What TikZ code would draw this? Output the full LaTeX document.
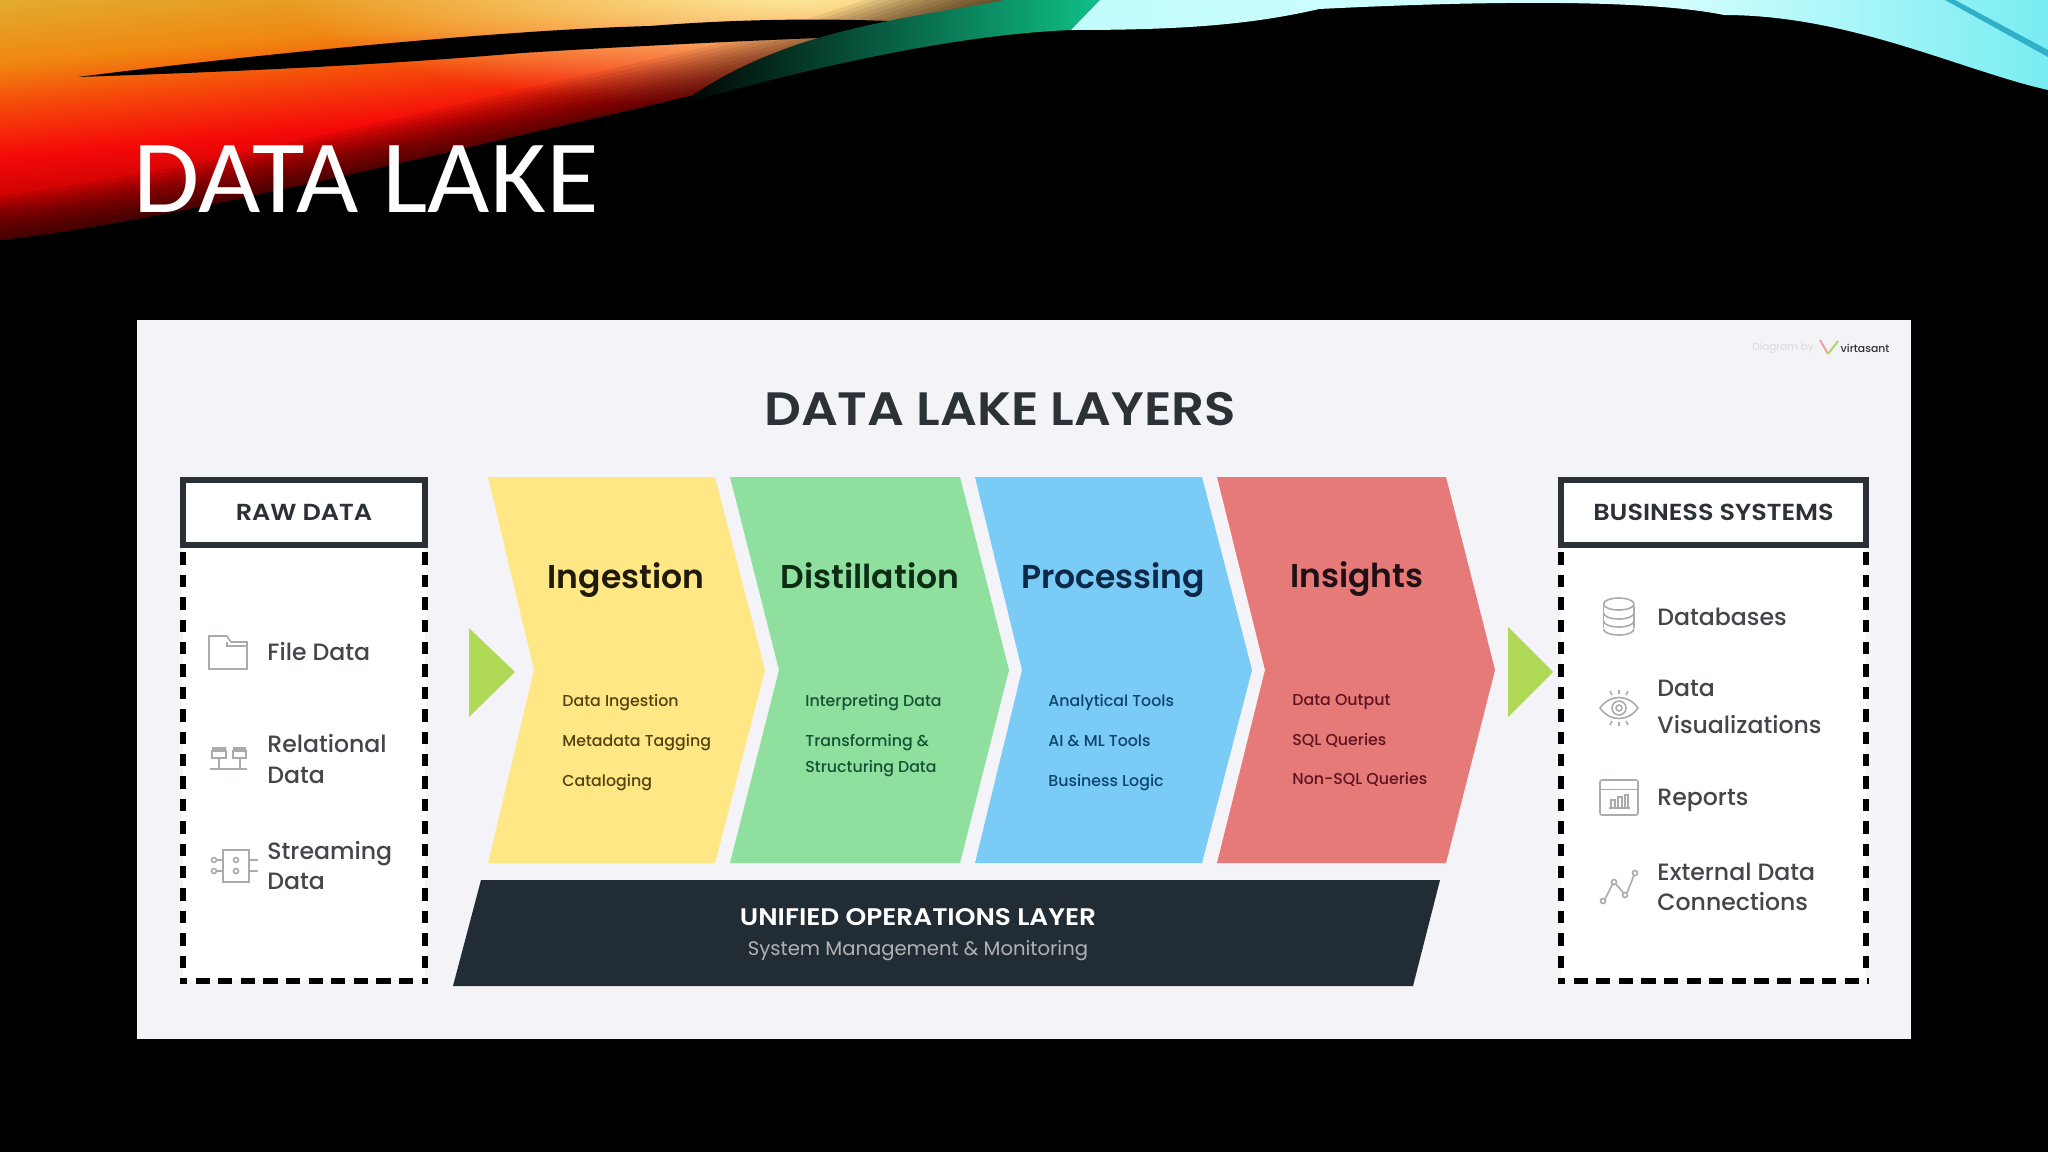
\documentclass[tikz,border=0pt]{standalone}
\usepackage{fontspec}
\usepackage{tikz}
\usetikzlibrary{fadings}
\setmainfont{Poppins}[BoldFont={Poppins SemiBold}]
\newfontfamily\titlefont{Carlito}[FakeStretch=1.035]
\newfontfamily\widefont{Poppins SemiBold}[FakeStretch=1.1]
\newfontfamily\medfont{Poppins Medium}
\newcommand{\fs}[1]{\fontsize{#1}{#1}\selectfont}

\definecolor{inkdark}{HTML}{2C3138}
\definecolor{itemink}{HTML}{43464B}
\definecolor{icongrey}{HTML}{A9ACAD}
\definecolor{panelgrey}{HTML}{F4F4F8}
\definecolor{arrowgreen}{HTML}{B0D957}
\definecolor{layerdark}{HTML}{212C35}
\definecolor{ingyellow}{HTML}{FEE784}
\definecolor{distgreen}{HTML}{8FE09F}
\definecolor{procblue}{HTML}{7ACBF5}
\definecolor{insred}{HTML}{E57A78}
\definecolor{inghead}{HTML}{1F1A0A}
\definecolor{disthead}{HTML}{0E2C14}
\definecolor{prochead}{HTML}{0C2A48}
\definecolor{inshead}{HTML}{1E1015}
\definecolor{ingsub}{HTML}{52430F}
\definecolor{distsub}{HTML}{145233}
\definecolor{procsub}{HTML}{0F4470}
\definecolor{inssub}{HTML}{5E1320}
\definecolor{warma}{HTML}{3C0000}
\definecolor{warmb}{HTML}{B00000}
\definecolor{warmc}{HTML}{F50808}
\definecolor{warmd}{HTML}{F54B0A}
\definecolor{warme}{HTML}{F08710}
\definecolor{warmf}{HTML}{E2AC30}
\definecolor{warmg}{HTML}{E8DE6E}
\definecolor{coola}{HTML}{10B890}
\definecolor{coolb}{HTML}{50E8D0}
\definecolor{coolc}{HTML}{C0FCFC}
\definecolor{coold}{HTML}{D8FFFF}
\definecolor{coole}{HTML}{60E8EE}
\definecolor{coolf}{HTML}{20C8E0}
\definecolor{ribbonmid}{HTML}{006838}
\definecolor{ribbonend}{HTML}{10C088}
\definecolor{stripeteal}{HTML}{30B0C8}
\pagecolor{black}

\pgfdeclareverticalshading{warmfade}{800pt}{
  color(0pt)=(warma); color(110pt)=(warmb); color(143pt)=(warmc); color(170pt)=(warmd);
  color(190pt)=(warme); color(222pt)=(warmf); color(300pt)=(warmg)}
\pgfdeclarehorizontalshading{coolfade}{100bp}{
  color(0bp)=(coola); color(9bp)=(coolb); color(24bp)=(coolc); color(55bp)=(coold);
  color(80bp)=(coole); color(100bp)=(coolf)}
\tikzfading[name=softspot, inner color=transparent!10, outer color=transparent!100]

\tikzset{
  headbox/.style={draw=inkdark, line width=3pt, outer sep=0pt, fill=white, inner sep=0pt, font=\widefont\fs{11.6}, text=inkdark},
  framedash/.style={line width=3pt, black, dash pattern=on 6.2pt off 5pt, dash phase=7.5pt},
  framebase/.style={line width=3pt, black, dash pattern=on 7.1pt off 4.2pt, dash phase=3.5pt},
  iconline/.style={draw=icongrey, line width=0.8pt},
  itemtext/.style={anchor=base west, inner sep=0pt, text=itemink, font=\medfont\fs{11.8}},
  stagehead/.style={anchor=base, inner sep=0pt, font=\bfseries\fs{16.5}},
  stageitem/.style={anchor=base west, inner sep=0pt, font=\medfont\fs{7.9}}
}

\begin{document}
\begin{tikzpicture}[x=0.5pt,y=-0.5pt]
    \useasboundingbox (0,0) rectangle (2048,1152);
    \fill [black] (0,0) rectangle (2048,1152);

    % swoosh at the top
    \begin{scope}
        \clip (0,240) .. controls (130,225) and (280,190) .. (457,150) .. controls (560,125) and (680,100) .. (784,72) .. controls (860,50) and (950,15) .. (1010,0) -- (0,0) -- cycle;
        \node [rotate=5,inner sep=0pt] (warmband) at (500,100) {\pgfuseshading{warmfade}};
        \fill [yellow!30!white, path fading=softspot] (800,-10) ellipse [x radius=520, y radius=120];
        \foreach \wd in {4,8,...,44}
            \draw [black, opacity=0.07, line width=\wd pt] (0,240) .. controls (130,225) and (280,190) .. (457,150) .. controls (560,125) and (680,100) .. (784,72) .. controls (860,50) and (950,15) .. (1010,0);
    \end{scope}
    \fill [black] (78,77) .. controls (250,55) and (500,30) .. (650,26) .. controls (750,18) and (850,18) .. (927,23) -- (900,35) .. controls (750,40) and (600,48) .. (522,53) .. controls (380,65) and (250,71) .. (78,77) -- cycle;
    \shade [left color=black, middle color=ribbonmid, right color=ribbonend] (679,105) .. controls (780,30) and (900,20) .. (1005,0) -- (1100,0) -- (1071,30) .. controls (950,35) and (800,70) .. (679,105) -- cycle;
    \shade [shading=coolfade] (1071,30) -- (1100,0) -- (2048,0) -- (2048,90) .. controls (1960,70) and (1850,15) .. (1724,15) .. controls (1650,0) and (1500,0) .. (1319,9) .. controls (1250,25) and (1180,30) .. (1071,30) -- cycle;
    \fill [stripeteal] (1945,0) -- (1955,0) -- (2048,50) -- (2048,57) -- cycle;

    \node [anchor=base west,inner sep=0pt,white,font=\titlefont\fs{52}] (slidetitle) at (133,212) {DATA LAKE};

    % white panel with the diagram
    \fill [panelgrey] (137,320) rectangle (1911,1039);
    \node [anchor=base,inner sep=0pt,inkdark,font=\widefont\fs{23.4}] (paneltitle) at (1000,425) {DATA LAKE LAYERS};

    \node [inner sep=0pt,black!15,font=\fs{5.2}] (credit) at (1783,348) {Diagram by};
    \node [inner sep=0pt,inkdark,font=\medfont\fs{5.4}] (creditname) at (1865,348) {virtasant};
    \draw [line width=1pt,insred!70!white] (1820,340) -- (1828,354);
    \draw [line width=1pt,arrowgreen] (1828,354) -- (1838,341);

    % raw data box
    \fill [white] (183,544) rectangle (425,980);
    \node [headbox,minimum width=121pt,minimum height=32.5pt] (rawhead) at (304,512.5) {RAW DATA};
    \draw [framedash] (rawhead.south west) -- (183,972);
    \draw [framedash] (rawhead.south east) -- (425,972);
    \draw [framebase] (180,981) -- (428,981);
    \node [itemtext] (filedata) at (267,660) {File Data};
    \node [itemtext] (rellabel) at (267,752) {Relational};
    \node [itemtext] (reldata) at (267,783) {Data};
    \node [itemtext] (streamlabel) at (267,859) {Streaming};
    \node [itemtext] (streamdata) at (267,889) {Data};

    % raw data icons
    \draw [iconline] (209,669) -- (209,636) -- (227,636) -- (231,642) -- (247,642) -- (247,669) -- cycle;
    \draw [iconline] (227,642) -- (227,646) -- (247,646);
    \fill [icongrey] (212,747) rectangle (226,751) (233,747) rectangle (246,751);
    \draw [iconline] (212,751) rectangle (226,758) (233,751) rectangle (246,758);
    \draw [iconline] (219,758) -- (219,769) (240,758) -- (240,769) (210,769) -- (247,769);
    \draw [iconline] (223,850) rectangle (249,882);
    \draw [iconline] (236,860) circle (2.5) (236,871) circle (2.5) (214,860) circle (2.5) (214,871) circle (2.5);
    \draw [iconline] (217,860) -- (223,860) (217,871) -- (223,871) (249,860) -- (258,860) (249,871) -- (258,871);

    % green arrows
    \fill [arrowgreen] (469,628) -- (515,672) -- (469,717) -- cycle;
    \fill [arrowgreen] (1508,627) -- (1553,672) -- (1508,717) -- cycle;

    % stages
    \foreach \lx/\rx/\nx/\tx/\col in {488/715/534/765/ingyellow, 730/960/779/1009/distgreen, 975/1202/1022/1252/procblue, 1217/1446/1265/1495/insred}
        \fill [\col] (\lx,477) -- (\rx,477) -- (\tx,670) -- (\rx,863) -- (\lx,863) -- (\nx,670) -- cycle;

    \node [stagehead,text=inghead] (ingtitle) at (626,588) {Ingestion};
    \node [stagehead,text=disthead] (disttitle) at (870,588) {Distillation};
    \node [stagehead,text=prochead] (proctitle) at (1113,588) {Processing};
    \node [stagehead,text=inshead] (institle) at (1357,587) {Insights};

    \node [stageitem,text=ingsub] (ing1) at (562,706.5) {Data Ingestion};
    \node [stageitem,text=ingsub] (ing2) at (562,746) {Metadata Tagging};
    \node [stageitem,text=ingsub] (ing3) at (562,786) {Cataloging};
    \node [stageitem,text=distsub] (dist1) at (805,706.5) {Interpreting Data};
    \node [stageitem,text=distsub] (dist2) at (805,746) {Transforming \&};
    \node [stageitem,text=distsub] (dist3) at (805,772) {Structuring Data};
    \node [stageitem,text=procsub] (proc1) at (1048,706.5) {Analytical Tools};
    \node [stageitem,text=procsub] (proc2) at (1048,746) {AI \& ML Tools};
    \node [stageitem,text=procsub] (proc3) at (1048,786) {Business Logic};
    \node [stageitem,text=inssub] (ins1) at (1292,705.5) {Data Output};
    \node [stageitem,text=inssub] (ins2) at (1292,745) {SQL Queries};
    \node [stageitem,text=inssub] (ins3) at (1292,784.5) {Non-SQL Queries};

    % operations layer
    \fill [layerdark] (481,880) -- (1440,880) -- (1413,986) -- (453,986) -- cycle;
    \node [anchor=base,inner sep=0pt,white,font=\widefont\fs{12}] (opshead) at (918,925) {UNIFIED OPERATIONS LAYER};
    \node [anchor=base,inner sep=0pt,black!30,font=\fs{9.8}] (opssub) at (918,955) {System Management \& Monitoring};

    % business systems box
    \fill [white] (1561,544) rectangle (1866,980);
    \node [headbox,minimum width=152.5pt,minimum height=32.5pt] (bizhead) at (1713.5,512.5) {BUSINESS SYSTEMS};
    \draw [framedash] (bizhead.south west) -- (1561,972);
    \draw [framedash] (bizhead.south east) -- (1866,972);
    \draw [framebase] (1558,981) -- (1869,981);
    \node [itemtext] (databases) at (1657,625) {Databases};
    \node [itemtext] (vizlabel) at (1657,696.5) {Data};
    \node [itemtext] (dataviz) at (1657,733) {Visualizations};
    \node [itemtext] (reports) at (1657,805) {Reports};
    \node [itemtext] (extlabel) at (1657,880) {External Data};
    \node [itemtext] (extdata) at (1657,910.5) {Connections};

    % business systems icons
    \draw [iconline] (1603.5,606) -- (1603.5,628) (1634,606) -- (1634,628);
    \foreach \yy in {604,613,621,629}
        \draw [iconline] (1603.5,\yy) arc [start angle=180,end angle=360,x radius=15.25,y radius=-6];
    \draw [iconline] (1603.5,604) arc [start angle=180,end angle=0,x radius=15.25,y radius=-6];
    \draw [iconline] (1600,708) .. controls (1610,694) and (1628,694) .. (1638,708) .. controls (1628,722) and (1610,722) .. (1600,708) -- cycle;
    \draw [iconline] (1619,708) circle (7) (1619,708) circle (3);
    \draw [iconline] (1619,690) -- (1619,694) (1610,691) -- (1612,695) (1628,691) -- (1626,695);
    \draw [iconline] (1619,722) -- (1619,726) (1610,725) -- (1612,721) (1628,725) -- (1626,721);
    \draw [iconline,rounded corners=1pt] (1600,780) rectangle (1638,815);
    \draw [iconline] (1600,789.5) -- (1638,789.5);
    \draw [iconline] (1611,808) -- (1611,800) -- (1615,800) -- (1615,808) (1618,808) -- (1618,797) -- (1622,797) -- (1622,808) (1625,808) -- (1625,795) -- (1628,795) -- (1628,808) (1609,808) -- (1630,808);
    \draw [iconline] (1605,899) -- (1612.5,884) (1616,884) -- (1623.5,893) (1627,893) -- (1634,875);
    \draw [iconline] (1603,901) circle (2.5) (1614,882) circle (2.5) (1625,895) circle (2.5) (1635,873) circle (2.5);
\end{tikzpicture}
\end{document}
